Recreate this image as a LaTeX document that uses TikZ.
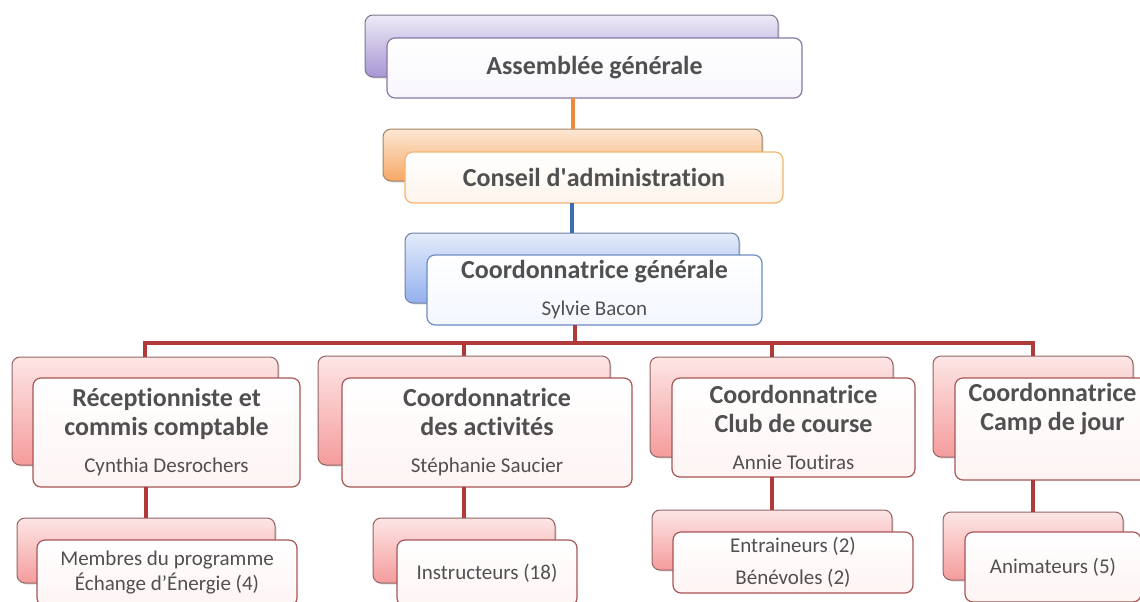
\documentclass[tikz,border=0pt]{standalone}
\usepackage{fontspec}
\setmainfont{Carlito}[Ligatures={TeX,NoCommon}]
\usepackage{tikz}
\usetikzlibrary{positioning,shadows}

\definecolor{textgray}{HTML}{505050}
\definecolor{purpletop}{HTML}{EEEAF6}
\definecolor{purplebot}{HTML}{A797D4}
\definecolor{purpleborder}{HTML}{7F7490}
\definecolor{purplefront}{HTML}{8678A8}
\definecolor{orangetop}{HTML}{FDE7D4}
\definecolor{orangebot}{HTML}{F6A865}
\definecolor{orangeborder}{HTML}{A08468}
\definecolor{orangefront}{HTML}{F2B46E}
\definecolor{orangelink}{HTML}{EE8A3C}
\definecolor{bluetop}{HTML}{E4ECFB}
\definecolor{bluebot}{HTML}{93B0EE}
\definecolor{blueborder}{HTML}{7080A0}
\definecolor{bluefront}{HTML}{6D8CC4}
\definecolor{bluelink}{HTML}{3D6CB0}
\definecolor{redtop}{HTML}{FDE6E6}
\definecolor{redbot}{HTML}{F59C9C}
\definecolor{redborder}{HTML}{946464}
\definecolor{redfront}{HTML}{A85555}
\definecolor{redlink}{HTML}{B03A3A}

\newcommand\ttlfont{\fontsize{19.5}{21.75}\selectfont\bfseries}
\newcommand\prsfont{\fontsize{15.75}{18.75}\selectfont\mdseries}

\tikzset{
  backbox/.style={draw=#1border, top color=#1top, bottom color=#1bot, rounded corners=6pt,
    line width=0.75pt, inner sep=0pt, outer sep=0pt,
    drop shadow={shadow xshift=1.2pt, shadow yshift=-1.2pt, opacity=0.25}},
  frontbox/.style={draw=#1front, top color=white, bottom color=#1top!45!white, rounded corners=6pt,
    line width=0.9pt, inner sep=0pt, outer sep=0pt, align=center, text=textgray, font=\ttlfont},
  link/.style={draw=#1link, line width=3pt},
}

\begin{document}
\begin{tikzpicture}[x=0.75pt,y=0.75pt,yscale=-1,xscale=1]
\useasboundingbox (0,0) rectangle (1140,601);
\clip (0,0) rectangle (1140,601);

%Assemblee generale
\node [backbox=purple, minimum width=309.75pt, minimum height=46.5pt] (agb) at (571.5,46) {};
\node [frontbox=purple, minimum width=311.25pt, minimum height=45pt] (ag) at (594.5,68) {Assemblée générale};

%Conseil d'administration
\node [backbox=orange, minimum width=284.25pt, minimum height=39pt] (cab) at (572.5,155) {};
\node [frontbox=orange, minimum width=283.5pt, minimum height=38.25pt] (ca) at (594,177.5) {Conseil d\textquotesingle administration};

%Coordonnatrice generale
\node [backbox=blue, minimum width=250.5pt, minimum height=52.5pt] (cgb) at (572,268) {};
\node [frontbox=blue, minimum width=251.25pt, minimum height=52.5pt] (cg) at (594.5,290) {Coordonnatrice générale\\[6pt]{\prsfont Sylvie Bacon}};

%Level 2
\node [backbox=red, minimum width=199.5pt, minimum height=81pt] (r1b) at (145,411) {};
\node [frontbox=red, minimum width=200.25pt, minimum height=81.75pt] (r1) at (166.5,432.5) {Réceptionniste et\\commis comptable\\[6pt]{\prsfont Cynthia Desrochers}};
\node [backbox=red, minimum width=219pt, minimum height=81.75pt] (r2b) at (464,410.5) {};
\node [frontbox=red, minimum width=217.5pt, minimum height=81.75pt] (r2) at (487,432.5) {Coordonnatrice\\des activités\\[6pt]{\prsfont Stéphanie Saucier}};
\node [backbox=red, minimum width=182.25pt, minimum height=75pt] (r3b) at (771.5,407) {};
\node [frontbox=red, minimum width=182.25pt, minimum height=74.25pt] (r3) at (793.5,427.5) {Coordonnatrice\\Club de course\\[6pt]{\prsfont Annie Toutiras}};
\node [backbox=red, minimum width=150pt, minimum height=75.75pt] (r4b) at (1033,406.5) {};
\node [frontbox=red, minimum width=146.25pt, minimum height=76.5pt] (r4) at (1052.5,429) {Coordonnatrice\\Camp de jour\\[6pt]{\prsfont\strut}};

%Level 3
\node [backbox=red, minimum width=193.5pt, minimum height=48.75pt] (s1b) at (146,550.5) {};
\node [frontbox=red, font=\prsfont, minimum width=195pt, minimum height=49.5pt] (s1) at (167,573) {Membres du programme\\Échange d'Énergie (4)};
\node [backbox=red, minimum width=136.5pt, minimum height=48.75pt] (s2b) at (464,550.5) {};
\node [frontbox=red, font=\prsfont, minimum width=135pt, minimum height=49.5pt] (s2) at (487,573) {Instructeurs (18)};
\node [backbox=red, minimum width=180pt, minimum height=45pt] (s3b) at (772,540) {};
\node [frontbox=red, font=\prsfont, minimum width=180pt, minimum height=45.75pt] (s3) at (793,562.5) {Entraineurs (2)\\[5.25pt]Bénévoles (2)};
\node [backbox=red, minimum width=135pt, minimum height=51pt] (s4b) at (1033,546) {};
\node [frontbox=red, font=\prsfont, minimum width=132pt, minimum height=52.5pt] (s4) at (1053,567) {Animateurs (5)};

%Links
\draw [link=orange] (ag.south -| cab.north) -- (cab.north);
\draw [link=blue] (ca.south -| cgb.north) -- (cgb.north);
\coordinate (bus) at (575,343);
\draw [link=red] (cg.south -| bus) -- (bus);
\foreach \n in {r1b,r2b,r3b,r4b}
  \draw [link=red] (bus) -| (\n.north);
\draw [link=red] (r1.south -| s1b.north) -- (s1b.north);
\draw [link=red] (r2.south -| s2b.north) -- (s2b.north);
\draw [link=red] (r3.south -| s3b.north) -- (s3b.north);
\draw [link=red] (r4.south -| s4b.north) -- (s4b.north);

\end{tikzpicture}
\end{document}
